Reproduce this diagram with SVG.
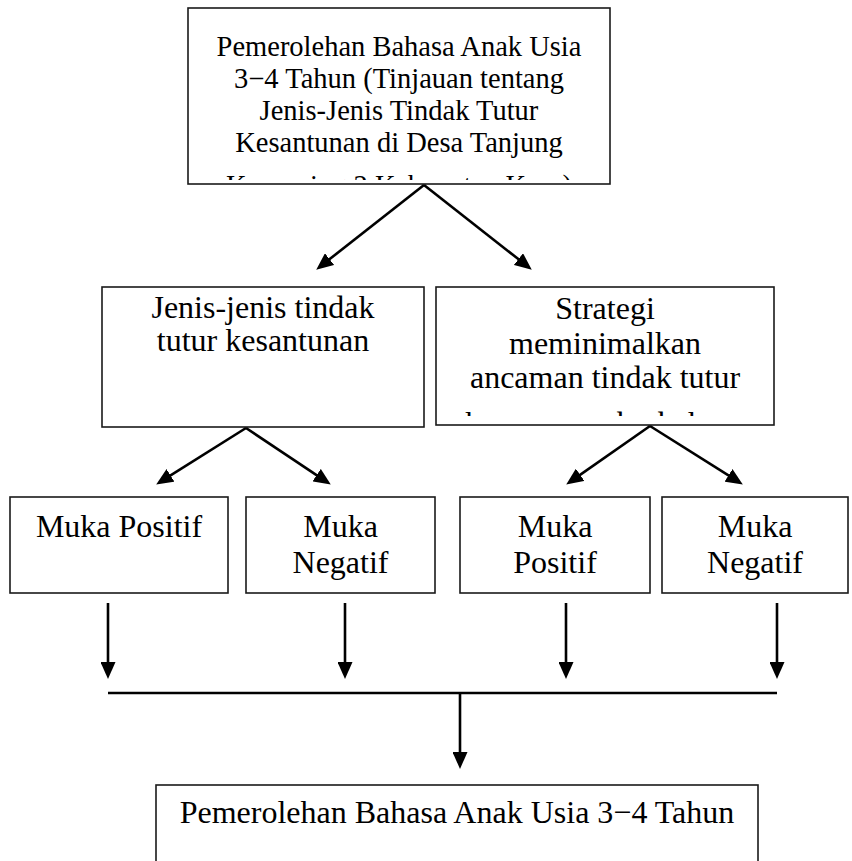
<svg xmlns="http://www.w3.org/2000/svg" width="852" height="861" viewBox="0 0 852 861">
<style>
.box{fill:#fff;stroke:#1a1a1a;stroke-width:1.6}
.t{font-family:"Liberation Serif","Times New Roman",serif;fill:#000;text-anchor:middle}
.s28{font-size:28.5px}
.s32{font-size:32px}
.c{fill:none;stroke:#000;stroke-width:2.6}
</style>
<defs>
<marker id="ah" markerUnits="userSpaceOnUse" markerWidth="17" markerHeight="15" refX="8" refY="7.5" orient="auto">
<path d="M0,0 L17,7.5 L0,15 z" fill="#000"/>
</marker>
<clipPath id="clipTop"><rect x="188" y="8" width="422" height="172"/></clipPath>
<clipPath id="clipMR"><rect x="436" y="287" width="338" height="129"/></clipPath>
</defs>

<g id="n-top">
<rect class="box" x="188" y="8" width="422" height="176"/>
<g clip-path="url(#clipTop)">
<text class="t s28" x="399" y="56">Pemerolehan Bahasa Anak Usia</text>
<text class="t s28" x="399" y="88">3−4 Tahun (Tinjauan tentang</text>
<text class="t s28" x="399" y="120">Jenis-Jenis Tindak Tutur</text>
<text class="t s28" x="399" y="152">Kesantunan di Desa Tanjung</text>
<text class="t s28" x="399" y="195">Kemuning 2 Kabupaten Kaur)</text>
</g>
</g>

<g id="n-jenis">
<rect class="box" x="102" y="287" width="322" height="140"/>
<text class="t s32" x="263" y="318">Jenis-jenis tindak</text>
<text class="t s32" x="263" y="351">tutur kesantunan</text>
</g>

<g id="n-strategi">
<rect class="box" x="436" y="287" width="338" height="138"/>
<g clip-path="url(#clipMR)">
<text class="t s32" x="605" y="319">Strategi</text>
<text class="t s32" x="605" y="353.5">meminimalkan</text>
<text class="t s32" x="605" y="388">ancaman tindak tutur</text>
<text class="t s32" x="605" y="434">kesantunan berbahasa</text>
</g>
</g>

<g id="n-muka1">
<rect class="box" x="10" y="497" width="218" height="96"/>
<text class="t s32" x="119" y="537">Muka Positif</text>
</g>
<g id="n-muka2">
<rect class="box" x="246" y="497" width="189" height="96"/>
<text class="t s32" x="340.5" y="537">Muka</text>
<text class="t s32" x="340.5" y="573">Negatif</text>
</g>
<g id="n-muka3">
<rect class="box" x="460" y="497" width="190" height="96"/>
<text class="t s32" x="555" y="537">Muka</text>
<text class="t s32" x="555" y="573">Positif</text>
</g>
<g id="n-muka4">
<rect class="box" x="662" y="497" width="186" height="96"/>
<text class="t s32" x="755" y="537">Muka</text>
<text class="t s32" x="755" y="573">Negatif</text>
</g>

<g id="n-bottom">
<rect class="box" x="156" y="785" width="602" height="100"/>
<text class="t s32" x="457" y="823">Pemerolehan Bahasa Anak Usia 3−4 Tahun</text>
</g>

<g id="connectors">
<path class="c" d="M424,185 L323.3,264.1" marker-end="url(#ah)"/>
<path class="c" d="M424,185 L524.7,264.1" marker-end="url(#ah)"/>
<path class="c" d="M246,428 L163.8,479.7" marker-end="url(#ah)"/>
<path class="c" d="M246,428 L323.3,479.6" marker-end="url(#ah)"/>
<path class="c" d="M650,426 L573.6,479.4" marker-end="url(#ah)"/>
<path class="c" d="M650,426 L735.2,479.7" marker-end="url(#ah)"/>
<path class="c" d="M108,603 L108,670" marker-end="url(#ah)"/>
<path class="c" d="M345,603 L345,670" marker-end="url(#ah)"/>
<path class="c" d="M566,603 L566,670" marker-end="url(#ah)"/>
<path class="c" d="M777,603 L777,670" marker-end="url(#ah)"/>
<path class="c" d="M108,693 L777,693"/>
<path class="c" d="M460,693 L460,760" marker-end="url(#ah)"/>
</g>
</svg>
